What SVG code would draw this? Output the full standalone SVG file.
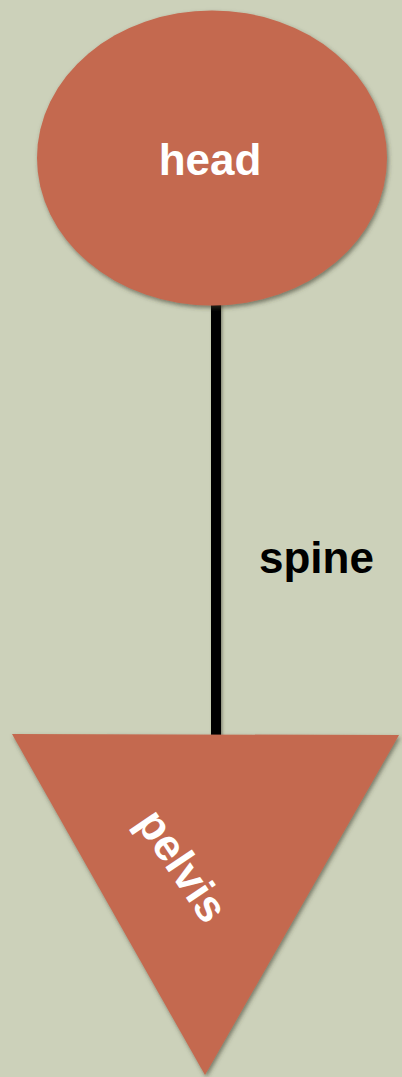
<svg xmlns="http://www.w3.org/2000/svg" width="402" height="1077" viewBox="0 0 402 1077">
<style>
.shape{fill:#c4694f;filter:url(#sh)}
.lbl{font-family:"Liberation Sans",Arial,sans-serif;font-weight:bold;font-size:44px}
.w{fill:#ffffff}
.k{fill:#000000}
</style>
<defs>
<filter id="sh" x="-10%" y="-10%" width="120%" height="120%">
<feDropShadow dx="1.5" dy="2.5" stdDeviation="2" flood-color="#3a3a2a" flood-opacity="0.6"/>
</filter>
<filter id="lsh" filterUnits="userSpaceOnUse" x="190" y="290" width="60" height="470">
<feDropShadow dx="1.5" dy="1" stdDeviation="1.5" flood-color="#3a3a2a" flood-opacity="0.5"/>
</filter>
</defs>
<rect width="402" height="1077" fill="#ccd1ba"/>
<g id="connectors">
<rect x="211" y="300" width="10" height="440" fill="#000" filter="url(#lsh)"/>
<text class="lbl k" x="259" y="573">spine</text>
</g>
<g id="head">
<ellipse class="shape" cx="212" cy="158" rx="175" ry="147.5"/>
<text class="lbl w" x="210" y="175" text-anchor="middle">head</text>
</g>
<g id="pelvis">
<polygon class="shape" points="12,734 399,735 205,1075"/>
<text class="lbl w" x="0" y="0" text-anchor="middle" transform="translate(170,874) rotate(56)">pelvis</text>
</g>
</svg>
